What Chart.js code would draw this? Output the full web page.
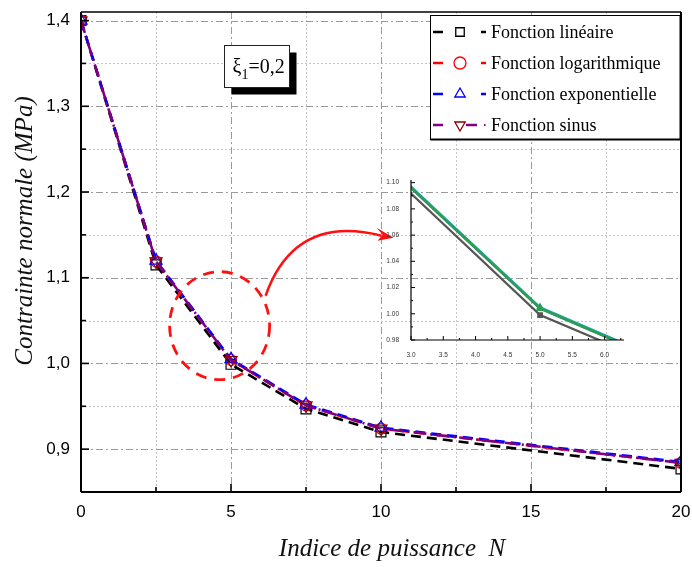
<!DOCTYPE html>
<html>
<head>
<meta charset="utf-8">
<script src="https://cdn.jsdelivr.net/npm/chart.js@4.4.0/dist/chart.umd.min.js"></script>
<style>
  html, body { margin: 0; padding: 0; background: #fff; }
  #wrap { position: relative; width: 692px; height: 567px; }
  #wrap canvas { position: absolute; left: 0; top: 0; }
</style>
</head>
<body>
<div id="wrap">
  <canvas id="main" width="692" height="567"></canvas>
  <canvas id="inset" width="692" height="567"></canvas>
</div>
<script>
// données
const indices = [0, 2.5, 5, 7.5, 10, 20];
const fLineaire = [1.400, 1.115, 0.999, 0.947, 0.920, 0.877];
const fLog      = [1.400, 1.119, 1.004, 0.951, 0.924, 0.884];
const fExp      = [1.400, 1.120, 1.005, 0.952, 0.925, 0.885];
const fSinus    = [1.400, 1.119, 1.004, 0.951, 0.924, 0.884];
const seriesLabels = ['Fonction linéaire', 'Fonction logarithmique', 'Fonction exponentielle', 'Fonction sinus'];

const xMajor = [0, 5, 10, 15, 20];
const xTickLabels = ['0', '5', '10', '15', '20'];
const xMinor = [2.5, 7.5, 12.5, 17.5];
const yMajor = [0.9, 1.0, 1.1, 1.2, 1.3, 1.4];
const yTickLabels = ['0,9', '1,0', '1,1', '1,2', '1,3', '1,4'];
const yMinor = [0.95, 1.05, 1.15, 1.25, 1.35];

// encart (zoom)
const insetXMajor = [3.0, 3.5, 4.0, 4.5, 5.0, 5.5, 6.0];
const insetXLabels = ['3.0', '3.5', '4.0', '4.5', '5.0', '5.5', '6.0'];
const insetXMinor = [3.25, 3.75, 4.25, 4.75, 5.25, 5.75, 6.25];
const insetYMajor = [0.98, 1.00, 1.02, 1.04, 1.06, 1.08, 1.10];
const insetYLabels = ['0.98', '1.00', '1.02', '1.04', '1.06', '1.08', '1.10'];
const insetYMinor = [0.99, 1.01, 1.03, 1.05, 1.07, 1.09];

const xTitle = 'Indice de puissance  N';
const yTitle = 'Contrainte normale (MPa)';

const SERIF = "'Liberation Serif','Times New Roman',serif";
const SANS = "'Liberation Sans',Arial,sans-serif";

const pts = vals => indices.map((x, i) => ({ x: x, y: vals[i] }));

function line(ctx, x1, y1, x2, y2) {
  ctx.beginPath(); ctx.moveTo(x1, y1); ctx.lineTo(x2, y2); ctx.stroke();
}

function noPad(s) {
  s.paddingLeft = 0; s.paddingRight = 0; s.paddingTop = 0; s.paddingBottom = 0;
}

function drawMarker(ctx, style, rot, x, y, r, color) {
  ctx.save();
  ctx.strokeStyle = color; ctx.lineWidth = 1.3; ctx.setLineDash([]);
  ctx.beginPath();
  if (style === 'rect') {
    const s = r * Math.SQRT1_2;
    ctx.rect(x - s, y - s, 2 * s, 2 * s);
  } else if (style === 'circle') {
    ctx.arc(x, y, r, 0, Math.PI * 2);
  } else {
    const d = rot ? -1 : 1;
    ctx.moveTo(x, y - d * r);
    ctx.lineTo(x + r * 0.866, y + d * r * 0.5);
    ctx.lineTo(x - r * 0.866, y + d * r * 0.5);
    ctx.closePath();
  }
  ctx.stroke();
  ctx.restore();
}

// grille + axes avec graduations intérieures
const axisDeco = {
  id: 'axisDeco',
  beforeDatasetsDraw(chart, args, o) {
    if (!o.grid) return;
    const { ctx, chartArea: a, scales: { x, y } } = chart;
    ctx.save();
    ctx.lineWidth = 1;
    ctx.strokeStyle = '#c4c4c4';
    ctx.setLineDash([2, 2]);
    o.xMinor.forEach(v => { const p = Math.round(x.getPixelForValue(v)) + 0.5; line(ctx, p, a.top, p, a.bottom); });
    o.yMinor.forEach(v => { const p = Math.round(y.getPixelForValue(v)) + 0.5; line(ctx, a.left, p, a.right, p); });
    ctx.strokeStyle = '#9a9a9a';
    ctx.setLineDash([7, 3, 2, 3]);
    x.ticks.forEach(t => {
      if (t.value <= x.min || t.value >= x.max) return;
      const p = Math.round(x.getPixelForValue(t.value)) + 0.5; line(ctx, p, a.top, p, a.bottom);
    });
    y.ticks.forEach(t => {
      if (t.value <= y.min || t.value >= y.max) return;
      const p = Math.round(y.getPixelForValue(t.value)) + 0.5; line(ctx, a.left, p, a.right, p);
    });
    ctx.restore();
  },
  afterDatasetsDraw(chart, args, o) {
    const { ctx, chartArea: a, scales: { x, y } } = chart;
    ctx.save();
    ctx.setLineDash([]);
    ctx.strokeStyle = '#000';
    ctx.lineWidth = o.tickWidth;
    x.ticks.forEach(t => { const p = x.getPixelForValue(t.value); line(ctx, p, a.bottom, p, a.bottom - o.majorLen); });
    o.xMinor.forEach(v => { if (v > x.max) return; const p = x.getPixelForValue(v); line(ctx, p, a.bottom, p, a.bottom - o.minorLen); });
    y.ticks.forEach(t => { const p = y.getPixelForValue(t.value); line(ctx, a.left, p, a.left + o.majorLen, p); });
    o.yMinor.forEach(v => { const p = y.getPixelForValue(v); line(ctx, a.left, p, a.left + o.minorLen, p); });
    ctx.lineWidth = o.axisWidth;
    line(ctx, a.left, a.bottom, a.right, a.bottom);
    line(ctx, a.left, a.top - (o.frame ? 0 : 2), a.left, a.bottom);
    if (o.frame) {
      ctx.lineWidth = 1.5;
      line(ctx, a.left, a.top, a.right, a.top);
      ctx.lineWidth = 2;
      line(ctx, a.right, a.top, a.right, a.bottom);
    }
    ctx.restore();
  }
};

// annotations : cercle, flèche, encadré ξ1, légende, titres d'axes
const decorations = {
  id: 'decorations',
  afterDraw(chart) {
    const { ctx, scales: { x, y } } = chart;
    ctx.save();

    // cercle rouge pointillé
    const cx = x.getPixelForValue(4.62), cy = y.getPixelForValue(1.044);
    ctx.strokeStyle = '#ff1010';
    ctx.lineWidth = 2.8;
    ctx.setLineDash([11, 8]);
    ctx.beginPath();
    ctx.ellipse(cx, cy, 50, 54, 0, 0, Math.PI * 2);
    ctx.stroke();

    // flèche courbe
    ctx.setLineDash([]);
    ctx.lineWidth = 2.5;
    ctx.beginPath();
    ctx.moveTo(cx + 46, cy - 30);
    ctx.quadraticCurveTo(cx + 75, cy - 112, cx + 162, cy - 90);
    ctx.stroke();
    ctx.fillStyle = '#ff1010';
    const tx = cx + 174, ty = cy - 88;
    ctx.beginPath();
    ctx.moveTo(tx, ty);
    ctx.lineTo(tx - 17, ty - 10);
    ctx.lineTo(tx - 11, ty - 3);
    ctx.lineTo(tx - 16, ty + 3);
    ctx.closePath();
    ctx.fill();

    // encadré ξ1 = 0,2
    const bx = Math.round(x.getPixelForValue(4.77)) + 0.5, by = Math.round(y.getPixelForValue(1.3715)) + 0.5;
    const bw = 65, bh = 42;
    ctx.fillStyle = '#000';
    ctx.fillRect(bx + 7, by + 7, bw, bh);
    ctx.fillStyle = '#fff';
    ctx.fillRect(bx, by, bw, bh);
    ctx.strokeStyle = '#222';
    ctx.lineWidth = 1;
    ctx.strokeRect(bx, by, bw, bh);
    ctx.fillStyle = '#000';
    ctx.textBaseline = 'alphabetic';
    ctx.textAlign = 'left';
    ctx.font = '20px ' + SERIF;
    let px = bx + 8;
    const base = by + 27;
    ctx.fillText('ξ', px, base);
    px += ctx.measureText('ξ').width;
    ctx.font = '14px ' + SERIF;
    ctx.fillText('1', px, base + 6);
    px += ctx.measureText('1').width;
    ctx.font = '20px ' + SERIF;
    ctx.fillText('=0,2', px, base);

    // légende
    const lx = 430.5, ly = 15.5, lw = 250, lh = 124;
    ctx.fillStyle = '#fff';
    ctx.fillRect(lx, ly, lw, lh);
    ctx.strokeStyle = '#000';
    ctx.lineWidth = 1;
    ctx.strokeRect(lx, ly, lw, lh);
    ctx.lineWidth = 2;
    line(ctx, lx, ly + lh, lx + lw, ly + lh);
    line(ctx, lx + lw, ly, lx + lw, ly + lh);
    const rows = [32, 63, 94, 125];
    chart.data.datasets.forEach(ds => {
      const ry = rows[ds.legendRow];
      ctx.strokeStyle = ds.borderColor;
      ctx.lineWidth = 2.5;
      ctx.setLineDash([]);
      line(ctx, 433, ry, 443, ry);
      if (ds.legendRow === 3) {
        line(ctx, 466, ry, 477, ry);
        ctx.fillStyle = ds.borderColor;
        ctx.fillRect(484, ry - 1, 1.5, 2);
      } else {
        line(ctx, 481, ry, 486, ry);
      }
      drawMarker(ctx, ds.pointStyle, ds.pointRotation, 460, ry, 6, ds.pointBorderColor);
      ctx.fillStyle = '#000';
      ctx.font = '18px ' + SERIF;
      ctx.textBaseline = 'middle';
      ctx.fillText(ds.label, 491, ry + 1);
    });

    // titres d'axes
    ctx.fillStyle = '#111';
    ctx.font = 'italic 25px ' + SERIF;
    ctx.textAlign = 'center';
    ctx.textBaseline = 'middle';
    ctx.fillText(xTitle, 392, 549);
    ctx.translate(25, 231);
    ctx.rotate(-Math.PI / 2);
    ctx.fillText(yTitle, 0, 0);
    ctx.restore();
  }
};

function mainSet(label, vals, color, dash, style, rot, ptColor, order, row) {
  return {
    label: label, data: pts(vals), borderColor: color, borderDash: dash, borderWidth: 2.6,
    pointStyle: style, pointRotation: rot, pointRadius: style === 'circle' ? 5.5 : 7,
    pointBorderColor: ptColor, pointBackgroundColor: 'rgba(0,0,0,0)', pointBorderWidth: 1.2,
    order: order, legendRow: row, tension: 0
  };
}

new Chart(document.getElementById('main'), {
  type: 'line',
  data: {
    datasets: [
      mainSet(seriesLabels[0], fLineaire, '#000000', [10, 6], 'rect', 0, '#000000', 3, 0),
      mainSet(seriesLabels[1], fLog, '#ff0000', [10, 6], 'circle', 0, '#ff0000', 2, 1),
      mainSet(seriesLabels[2], fExp, '#0000ff', [10, 6], 'triangle', 0, '#0000ff', 1, 2),
      mainSet(seriesLabels[3], fSinus, '#800080', [13, 4, 2, 4], 'triangle', 180, '#8b0000', 0, 3)
    ]
  },
  options: {
    responsive: false,
    animation: false,
    events: [],
    layout: { padding: { left: 0, top: 12, right: 11, bottom: 0 } },
    plugins: {
      legend: { display: false },
      tooltip: { enabled: false },
      axisDeco: { grid: true, xMinor: xMinor, yMinor: yMinor, majorLen: 8, minorLen: 5, tickWidth: 1.6, axisWidth: 2, frame: true }
    },
    scales: {
      x: {
        type: 'linear', min: 0, max: 20,
        afterBuildTicks: s => { s.ticks = xMajor.map(v => ({ value: v })); },
        afterFit: s => { s.height = 75; noPad(s); },
        grid: { display: false }, border: { display: false },
        ticks: { padding: 2, color: '#000', font: { family: SANS, size: 17 }, maxRotation: 0, callback: (v, i) => xTickLabels[i] }
      },
      y: {
        type: 'linear', min: 0.85, max: 1.41,
        afterBuildTicks: s => { s.ticks = yMajor.map(v => ({ value: v })); },
        afterFit: s => { s.width = 81; noPad(s); },
        grid: { display: false }, border: { display: false },
        ticks: { padding: 3, color: '#000', font: { family: SANS, size: 17 }, callback: (v, i) => yTickLabels[i] }
      }
    }
  },
  plugins: [axisDeco, decorations]
});

function insetSet(vals, color, style) {
  return {
    data: pts(vals), borderColor: color, borderWidth: 2.2, pointStyle: style,
    pointRadius: 2.5, pointBorderColor: color, pointBackgroundColor: color, tension: 0
  };
}

new Chart(document.getElementById('inset'), {
  type: 'line',
  data: {
    datasets: [
      insetSet(fSinus, '#2e9e48', 'triangle'),
      insetSet(fExp, '#1ea0a8', 'triangle'),
      insetSet(fLog, '#3a5fd0', 'triangle'),
      insetSet(fLineaire, '#555555', 'rect')
    ]
  },
  options: {
    responsive: false,
    animation: false,
    events: [],
    layout: { padding: { left: 0, top: 182, right: 68, bottom: 0 } },
    plugins: {
      legend: { display: false },
      tooltip: { enabled: false },
      axisDeco: { grid: false, xMinor: insetXMinor, yMinor: insetYMinor, majorLen: 4, minorLen: 2, tickWidth: 1, axisWidth: 1.2, frame: false }
    },
    scales: {
      x: {
        type: 'linear', min: 3.0, max: 6.3,
        afterBuildTicks: s => { s.ticks = insetXMajor.map(v => ({ value: v })); },
        afterFit: s => { s.height = 227; noPad(s); },
        grid: { display: false }, border: { display: false },
        ticks: { padding: 3, color: '#333', font: { family: SANS, size: 6.5 }, maxRotation: 0, autoSkip: false, callback: (v, i) => insetXLabels[i] }
      },
      y: {
        type: 'linear', min: 0.98, max: 1.1005,
        afterBuildTicks: s => { s.ticks = insetYMajor.map(v => ({ value: v })); },
        afterFit: s => { s.width = 411; noPad(s); },
        grid: { display: false }, border: { display: false },
        ticks: { padding: 4, color: '#333', font: { family: SANS, size: 6.5 }, autoSkip: false, callback: (v, i) => insetYLabels[i] }
      }
    }
  },
  plugins: [axisDeco]
});
</script>
</body>
</html>
